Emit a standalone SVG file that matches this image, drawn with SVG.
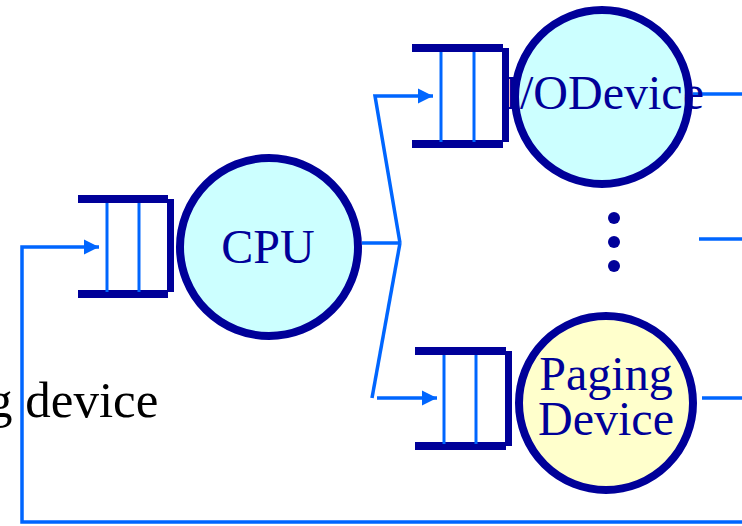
<svg xmlns="http://www.w3.org/2000/svg" width="742" height="526" viewBox="0 0 742 526">
  <defs>
    <style>
      .bar { fill: #000099; }
      .slot { stroke: #0066FF; stroke-width: 3; }
      .link { stroke: #0066FF; stroke-width: 3.5; fill: none; }
      .server { stroke: #000099; stroke-width: 8; }
      .label { font-family: "Liberation Serif", "Times New Roman", serif; fill: #000099; font-size: 48px; text-anchor: middle; }
      .note { font-family: "Liberation Serif", "Times New Roman", serif; fill: #000000; font-size: 51px; }
    </style>
    <marker id="head" markerWidth="16" markerHeight="16" refX="15" refY="8" orient="auto" markerUnits="userSpaceOnUse">
      <path d="M0,0.5 L15,8 L0,15.5 Z" fill="#0066FF"/>
    </marker>
  </defs>

  <!-- side note text -->
  <text class="note" x="-13" y="417">g device</text>

  <!-- connectors -->
  <g id="connectors">
    <polyline class="link" points="742,522 22,522 22,247 99,247" marker-end="url(#head)"/>
    <polyline class="link" points="362,243 400,243"/>
    <polyline class="link" points="400,243 375,96 433,96" marker-end="url(#head)"/>
    <polyline class="link" points="400,243 372,398"/>
    <polyline class="link" points="377,398 437,398" marker-end="url(#head)"/>
    <line class="link" x1="693" y1="94" x2="742" y2="94"/>
    <line class="link" x1="699" y1="239" x2="742" y2="239"/>
    <line class="link" x1="702" y1="398" x2="742" y2="398"/>
  </g>

  <!-- CPU queue and server -->
  <g id="cpu-queue">
    <rect class="bar" x="78" y="195" width="90" height="8"/>
    <rect class="bar" x="78" y="290" width="90" height="8"/>
    <rect class="bar" x="167" y="199" width="7" height="93"/>
    <line class="slot" x1="107" y1="203" x2="107" y2="292"/>
    <line class="slot" x1="139" y1="203" x2="139" y2="292"/>
  </g>
  <g id="cpu">
    <circle class="server" cx="269" cy="247" r="89" fill="#CCFFFF"/>
    <text class="label" x="268" y="263">CPU</text>
  </g>

  <!-- I/O device queue and server -->
  <g id="io-queue">
    <rect class="bar" x="412" y="44" width="91" height="8"/>
    <rect class="bar" x="412" y="140" width="91" height="8"/>
    <rect class="bar" x="502" y="48" width="7" height="94"/>
    <line class="slot" x1="441" y1="52" x2="441" y2="142"/>
    <line class="slot" x1="474" y1="52" x2="474" y2="142"/>
  </g>
  <g id="io-device">
    <circle class="server" cx="602" cy="97" r="87" fill="#CCFFFF"/>
    <text class="label" x="604" y="109">I/ODevice</text>
  </g>

  <!-- more devices -->
  <g id="ellipsis" fill="#000099">
    <circle cx="614" cy="218" r="6"/>
    <circle cx="614" cy="242" r="6"/>
    <circle cx="614" cy="266" r="6"/>
  </g>

  <!-- paging device queue and server -->
  <g id="paging-queue">
    <rect class="bar" x="415" y="347" width="91" height="8"/>
    <rect class="bar" x="415" y="442" width="91" height="8"/>
    <rect class="bar" x="505" y="351" width="7" height="95"/>
    <line class="slot" x1="444" y1="355" x2="444" y2="444"/>
    <line class="slot" x1="476" y1="355" x2="476" y2="444"/>
  </g>
  <g id="paging-device">
    <circle class="server" cx="606" cy="403" r="87" fill="#FFFFCC"/>
    <text class="label" x="606" y="390">Paging</text>
    <text class="label" x="606" y="435">Device</text>
  </g>
</svg>
